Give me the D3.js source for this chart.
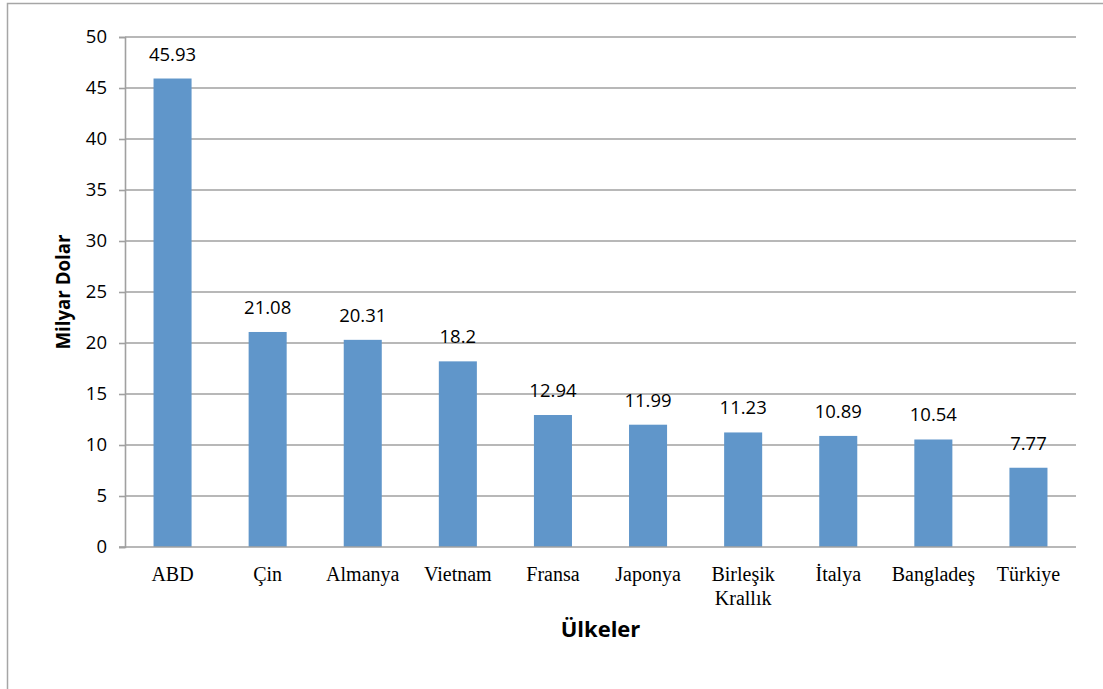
<!DOCTYPE html>
<html>
<head>
<meta charset="utf-8">
<script src="https://cdn.jsdelivr.net/npm/d3@7"></script>
<style>
  body { margin: 0; background: #fff; }
  .tick text { font-family: "Open Sans", sans-serif; font-size: 18.5px; fill: #000; }
  .cat text { font-family: "Liberation Serif", serif; font-size: 20px; fill: #000; }
</style>
</head>
<body>
<script>
// chart values
const countries = ["ABD", "Çin", "Almanya", "Vietnam", "Fransa", "Japonya", "Birleşik Krallık", "İtalya", "Bangladeş", "Türkiye"];
const values = [45.93, 21.08, 20.31, 18.2, 12.94, 11.99, 11.23, 10.89, 10.54, 7.77];
const yTicks = [0, 5, 10, 15, 20, 25, 30, 35, 40, 45, 50];

const box = { upper: 37, lower: 142, right: 27, left: 125 };
const W = 1103, H = 689;
const width = W - box.left - box.right;
const height = H - box.upper - box.lower;

const svg = d3.select("body").append("svg")
  .attr("width", W)
  .attr("height", H);

// outer chart frame
svg.append("rect")
  .attr("x", 7.5).attr("y", 3.5)
  .attr("width", W).attr("height", H)
  .attr("fill", "none")
  .attr("stroke", "#a6a6a6")
  .attr("stroke-width", 1.5);

const g = svg.append("g")
  .attr("transform", "translate(" + box.left + "," + box.upper + ")");

const xScale = d3.scaleBand().domain(countries).range([0, width]).paddingInner(0.6).paddingOuter(0.3);
const yScale = d3.scaleLinear().domain([0, 50]).range([height, 0]);

// gridlines
g.selectAll(".grid")
  .data(yTicks.slice(1))
  .enter()
  .append("line")
  .attr("x1", 0).attr("x2", width)
  .attr("y1", d => yScale(d)).attr("y2", d => yScale(d))
  .attr("stroke", "#a0a0a0")
  .attr("stroke-width", 1.6);

// y axis
const yAxis = g.append("g")
  .call(d3.axisLeft(yScale).tickValues(yTicks).tickSize(6).tickPadding(12).tickFormat(d3.format("d")));
yAxis.select(".domain").attr("stroke", "#a0a0a0").attr("stroke-width", 1.6);
yAxis.selectAll(".tick line").attr("stroke", "#a0a0a0").attr("stroke-width", 1.6);

// bars
g.selectAll(".bar")
  .data(values)
  .enter()
  .append("rect")
  .attr("class", "bar")
  .attr("x", (d, i) => xScale(countries[i]))
  .attr("width", xScale.bandwidth())
  .attr("y", d => yScale(d))
  .attr("height", d => height - yScale(d))
  .attr("fill", "#6096ca");

// bottom axis line
g.append("line")
  .attr("x1", -6).attr("x2", width)
  .attr("y1", height).attr("y2", height)
  .attr("stroke", "#a0a0a0")
  .attr("stroke-width", 1.6);

// value labels
g.selectAll(".val")
  .data(values)
  .enter()
  .append("text")
  .attr("x", (d, i) => xScale(countries[i]) + xScale.bandwidth() / 2)
  .attr("y", d => yScale(d) - 18)
  .attr("text-anchor", "middle")
  .style("font-family", "'Open Sans', sans-serif")
  .style("font-size", "18.5px")
  .text(d => d);

// category labels, wrap two-word names
const cat = g.append("g").attr("class", "cat");
countries.forEach(c => {
  const t = cat.append("text")
    .attr("x", xScale(c) + xScale.bandwidth() / 2)
    .attr("y", height + 34)
    .attr("text-anchor", "middle");
  c.split(" ").forEach((w, j) => {
    t.append("tspan")
      .attr("x", xScale(c) + xScale.bandwidth() / 2)
      .attr("dy", j === 0 ? 0 : 24)
      .text(w);
  });
});

// axis titles
g.append("text")
  .attr("x", width / 2)
  .attr("y", height + 90)
  .attr("text-anchor", "middle")
  .style("font-family", "'Open Sans', sans-serif")
  .style("font-weight", "bold")
  .style("font-size", "22px")
  .text("Ülkeler");

g.append("text")
  .attr("transform", "rotate(-90)")
  .attr("x", -height / 2)
  .attr("y", -55)
  .attr("text-anchor", "middle")
  .style("font-family", "'Open Sans', sans-serif")
  .style("font-weight", "bold")
  .style("font-size", "18.7px")
  .text("Milyar Dolar");
</script>
</body>
</html>
